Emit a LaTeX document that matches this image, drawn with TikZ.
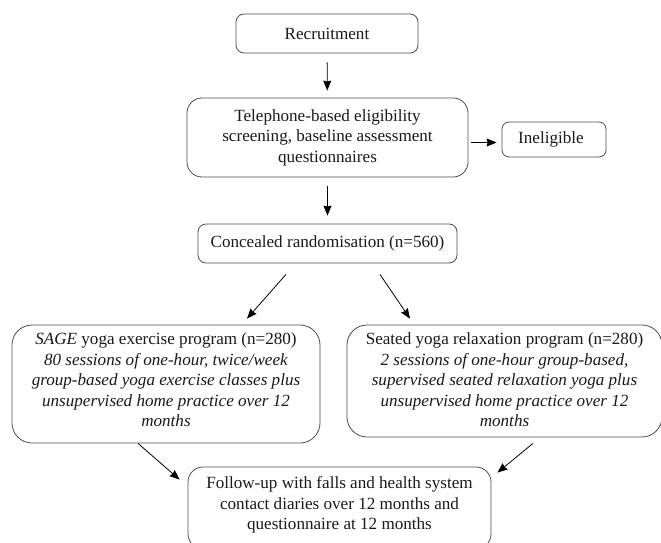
\documentclass[tikz,border=0pt]{standalone}
\usepackage{fontspec}
\setmainfont{Liberation Serif}
\usetikzlibrary{arrows.meta}
\begin{document}
\begin{tikzpicture}[x=1pt,y=-1pt,
  box/.style={draw=black!70, line width=0.8pt, rounded corners=#1, inner sep=0pt},
  box/.default=8pt,
  txt/.style={font=\fontsize{17.1}{20.5}\selectfont, align=center, inner sep=0pt, text=black!90},
  arr/.style={-{Stealth[length=10pt,width=8pt,inset=1pt]}, line width=0.8pt, black}]
\useasboundingbox (0,0) rectangle (661,543);
% boxes
\node[box=8pt, txt, minimum width=182pt, minimum height=39pt] (rec) at (327,33.5) {Recruitment};
\node[box=15pt, txt, minimum width=281pt, minimum height=79pt] (tel) at (327.5,137.5)
  {Telephone-based eligibility\\screening, baseline assessment\\questionnaires};
\node[box=7pt, txt, minimum width=104pt, minimum height=35pt] (inel) at (554,139.5) {\hspace*{-6pt}Ineligible};
\node[box=8pt, txt, minimum width=259pt, minimum height=39pt] (conc) at (327.5,243.5) {Concealed randomisation (n=560)};
\node[box=20pt, minimum width=308pt, minimum height=118pt] (left) at (166,384) {};
\node[txt, anchor=north] (lefttext) at ([yshift=-8pt]left.north)
  {\textit{SAGE} yoga exercise program (n=280)\\
   \textit{80 sessions of one-hour, twice/week}\\
   \textit{group-based yoga exercise classes plus}\\
   \textit{unsupervised home practice over 12}\\
   \textit{months}};
\node[box=20pt, minimum width=315pt, minimum height=112pt] (right) at (504.5,381) {};
\node[txt, anchor=north] (righttext) at ([yshift=-8pt]right.north)
  {Seated yoga relaxation program (n=280)\\
   \textit{2 sessions of one-hour group-based,}\\
   \textit{supervised seated relaxation yoga plus}\\
   \textit{unsupervised home practice over 12}\\
   \textit{months}};
\node[box=15pt, minimum width=303pt, minimum height=82pt] (bot) at (339.5,508) {};
\node[txt, anchor=north] (bottext) at ([yshift=-10pt]bot.north)
  {Follow-up with falls and health system\\
   contact diaries over 12 months and\\
   questionnaire at 12 months};
% connectors
\coordinate (ia) at ([xshift=3pt,yshift=-5pt]tel.east);
\coordinate (ib) at ([xshift=-5pt,yshift=-5pt]tel.east -| inel.west);
\draw[arr, shorten <=9pt, shorten >=7pt] (rec) -- (tel);
\draw[arr, shorten <=9pt, shorten >=8pt] (tel) -- (conc);
\draw[arr] (ia) -- (ib);
\draw[arr] ([xshift=-41.5pt,yshift=-11pt]conc.south) -- ([xshift=81pt,yshift=6pt]left.north);
\draw[arr] ([xshift=52.5pt,yshift=-11pt]conc.south) -- ([xshift=-94.5pt,yshift=6pt]right.north);
\draw[arr] ([xshift=-28pt]left.south) -- ([xshift=-8pt,yshift=-13pt]bot.north west);
\draw[arr] ([xshift=28.5pt,yshift=-6pt]right.south) -- ([xshift=6pt,yshift=-6pt]bot.north east);
\end{tikzpicture}
\end{document}
